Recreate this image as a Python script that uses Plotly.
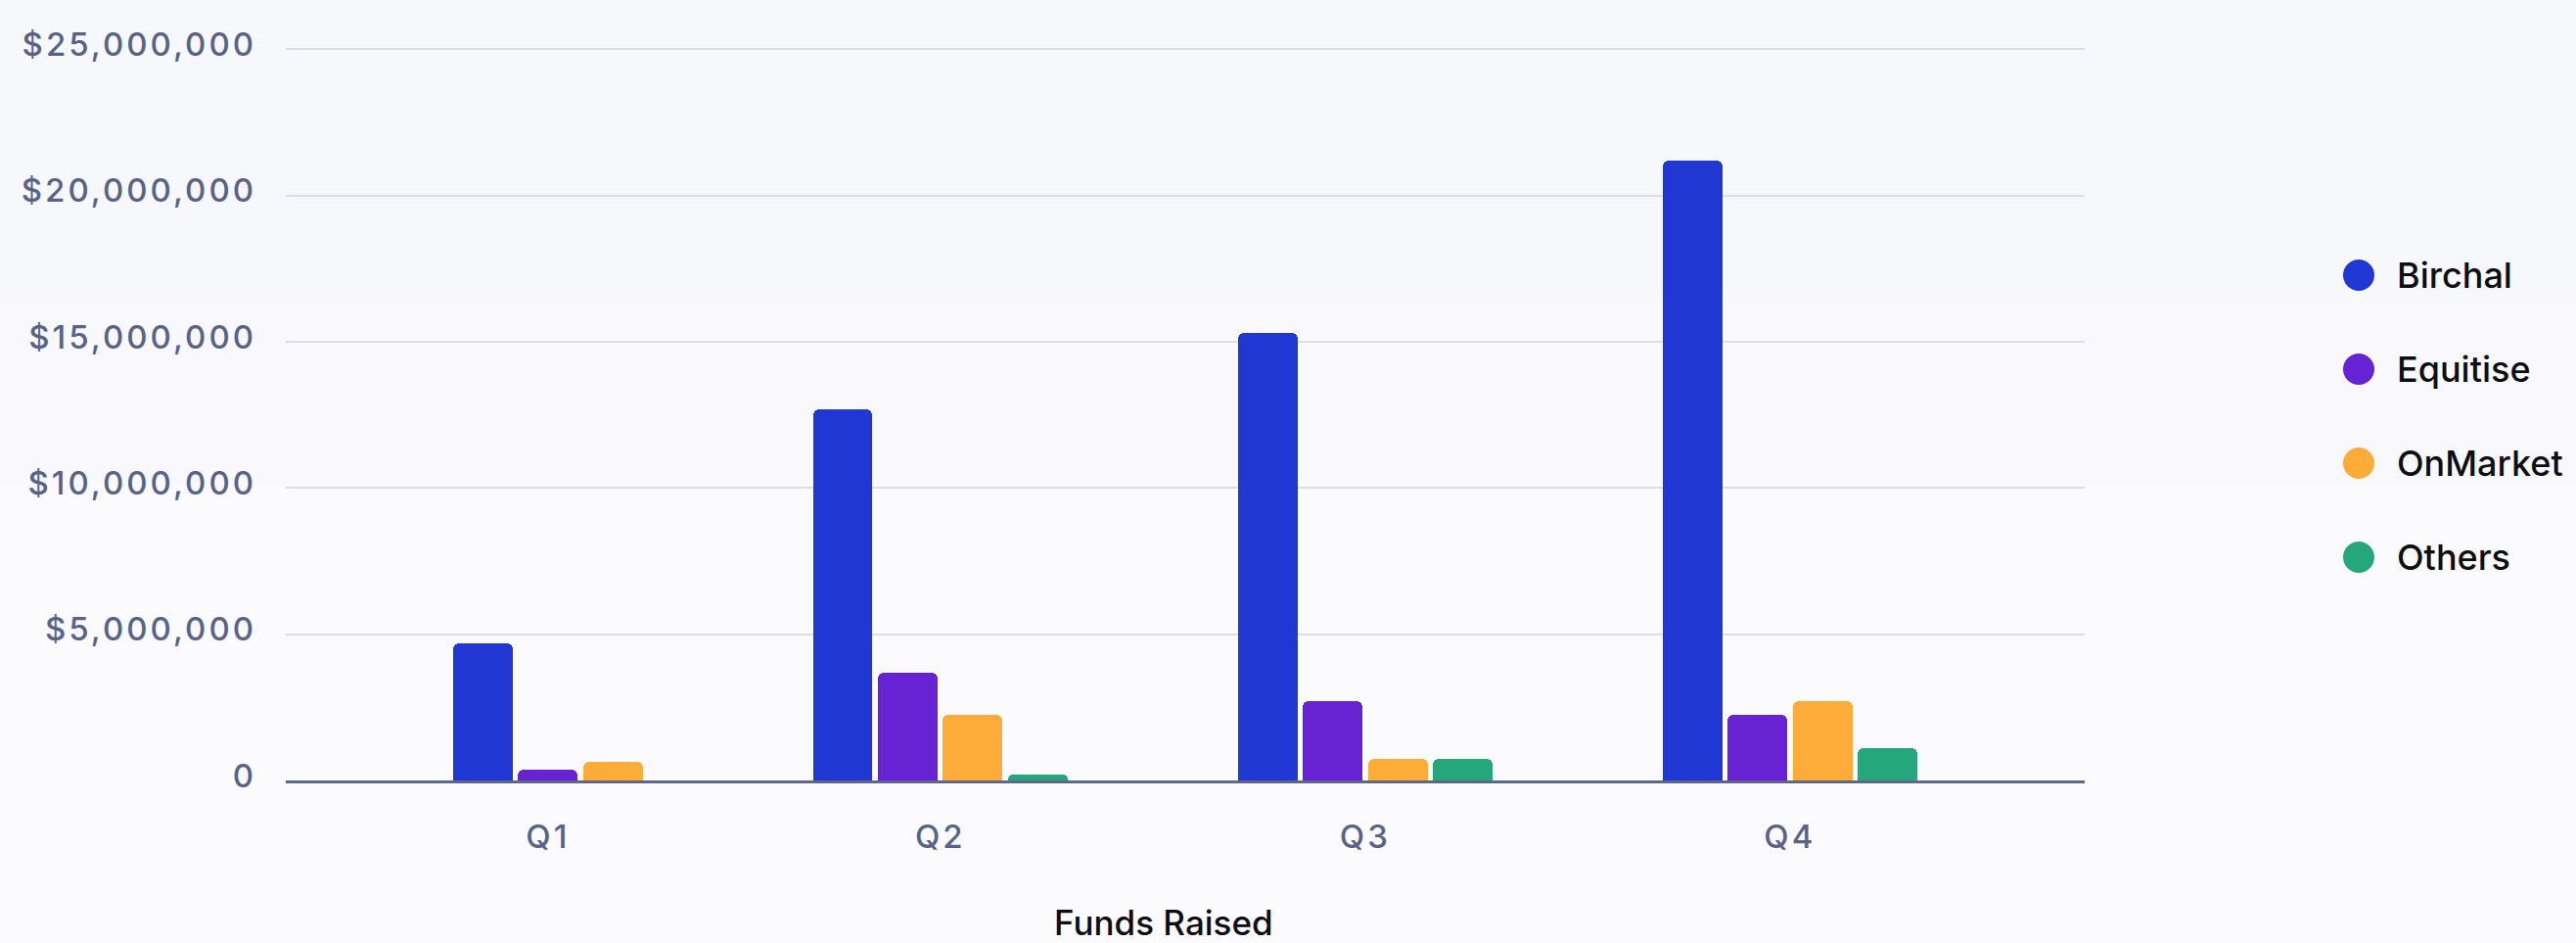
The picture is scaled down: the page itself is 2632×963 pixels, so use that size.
import plotly.graph_objects as go

# ---------------- data ----------------
quarters = ["Q1", "Q2", "Q3", "Q4"]
series_names = ["Birchal", "Equitise", "OnMarket", "Others"]
birchal = [4_700_000, 12_700_000, 15_300_000, 21_200_000]
equitise = [380_000, 3_700_000, 2_700_000, 2_250_000]
onmarket = [650_000, 2_250_000, 750_000, 2_700_000]
others = [None, 190_000, 750_000, 1_100_000]
y_tick_values = [0, 5_000_000, 10_000_000, 15_000_000, 20_000_000, 25_000_000]
y_tick_labels = ["0", "$5,000,000", "$10,000,000", "$15,000,000", "$20,000,000", "$25,000,000"]
x_title = "Funds Raised"

# ---------------- style ----------------
colors = ["#2137D4", "#6622D3", "#FDAC3A", "#25A77B"]
W, H = 2632, 963
L, R, T, B = 292, 502, 48, 166
PW, PH = W - L - R, H - T - B
Y_MAX = 25_080_000    # a hair above the top gridline so it is drawn
GROUP_GAP = 2.53      # gap between quarter groups, in bar-slot units
BAR_FILL = 0.917      # bar width as a fraction of its slot
TICK_COLOR = "#5A6386"
FONT = "Inter"

series = [birchal, equitise, onmarket, others]

# lay out groups: each quarter only reserves slots for the series it has
xs = [[None] * len(quarters) for _ in series]
tick_pos = []
cursor = 0.0
for qi in range(len(quarters)):
    cursor += GROUP_GAP
    start = cursor
    for si, vals in enumerate(series):
        if vals[qi] is not None:
            xs[si][qi] = cursor + 0.5
            cursor += 1
    tick_pos.append((start + cursor) / 2)
x_max = cursor + GROUP_GAP

fig = go.Figure()
for si, name in enumerate(series_names):
    fig.add_trace(go.Bar(
        x=xs[si], y=series[si], name=name, width=BAR_FILL,
        customdata=quarters,
        hovertemplate="%{customdata}<br>" + name + ": $%{y:,.0f}<extra></extra>",
        marker=dict(color=colors[si], cornerradius=6, line=dict(width=0)),
        showlegend=False,
    ))


def px_x(X):
    return (X - L) / PW


def px_y(Y):
    return (H - B - Y) / PH


# background bands
bands = [(0, 303, "#F7F8FC"), (303, 493, "#F9F9FD"), (493, H, "#FBFBFE")]
shapes = []
for y0, y1, c in bands:
    shapes.append(dict(type="rect", xref="paper", yref="paper",
                       x0=px_x(0), x1=px_x(W), y0=px_y(y1), y1=px_y(y0),
                       fillcolor=c, line=dict(width=0), layer="below"))

# manual legend with large circular markers
annotations = []
leg_y = [281, 377, 473, 569]
for si, name in enumerate(series_names):
    cy = leg_y[si]
    shapes.append(dict(type="circle", xref="paper", yref="paper",
                       x0=px_x(2394), x1=px_x(2426), y0=px_y(cy + 16), y1=px_y(cy - 16),
                       fillcolor=colors[si], line=dict(width=0)))
    annotations.append(dict(xref="paper", yref="paper", x=px_x(2447), y=px_y(cy),
                            xanchor="left", yanchor="middle", showarrow=False,
                            text=name, font=dict(family=FONT, size=36, weight=500, color="#0E0E12")))

annotations.append(dict(xref="paper", yref="paper", x=px_x(1189), y=px_y(942),
                        xanchor="center", yanchor="middle", showarrow=False,
                        text=x_title, font=dict(family=FONT, size=35, weight=500, color="#0E0E12")))

fig.update_layout(
    width=W, height=H,
    margin=dict(l=L, r=R, t=T, b=B, pad=0),
    paper_bgcolor="#FBFBFE", plot_bgcolor="rgba(0,0,0,0)",
    barmode="overlay", bargap=0,
    shapes=shapes, annotations=annotations,
    font=dict(family=FONT, color=TICK_COLOR),
    xaxis=dict(range=[0, x_max], tickvals=tick_pos, ticktext=quarters,
               showgrid=False, zeroline=False, showline=True,
               linecolor="#5F6687", linewidth=3, ticks="",
               tickfont=dict(family=FONT, size=33, weight=500, color=TICK_COLOR),
               ticklabelstandoff=26, fixedrange=True),
    yaxis=dict(range=[0, Y_MAX], tickvals=y_tick_values, ticktext=y_tick_labels,
               showgrid=True, gridcolor="#DCDDE6", gridwidth=2,
               zeroline=False, showline=False, ticks="",
               tickfont=dict(family=FONT, size=33, weight=500, color=TICK_COLOR),
               ticklabelstandoff=29, ticklabelshift=-5, fixedrange=True),
    hoverlabel=dict(font=dict(family=FONT)),
)

post = """
document.body.style.margin='0';
var gd = document.getElementById('{plot_id}');
function spacing(){
  document.querySelectorAll('.xtick text, .ytick text').forEach(function(t){ t.style.letterSpacing='3px'; });
}
spacing();
if (gd && gd.on) { gd.on('plotly_afterplot', spacing); }
"""
fig.write_html("out.html", post_script=post, config={"displayModeBar": False})
